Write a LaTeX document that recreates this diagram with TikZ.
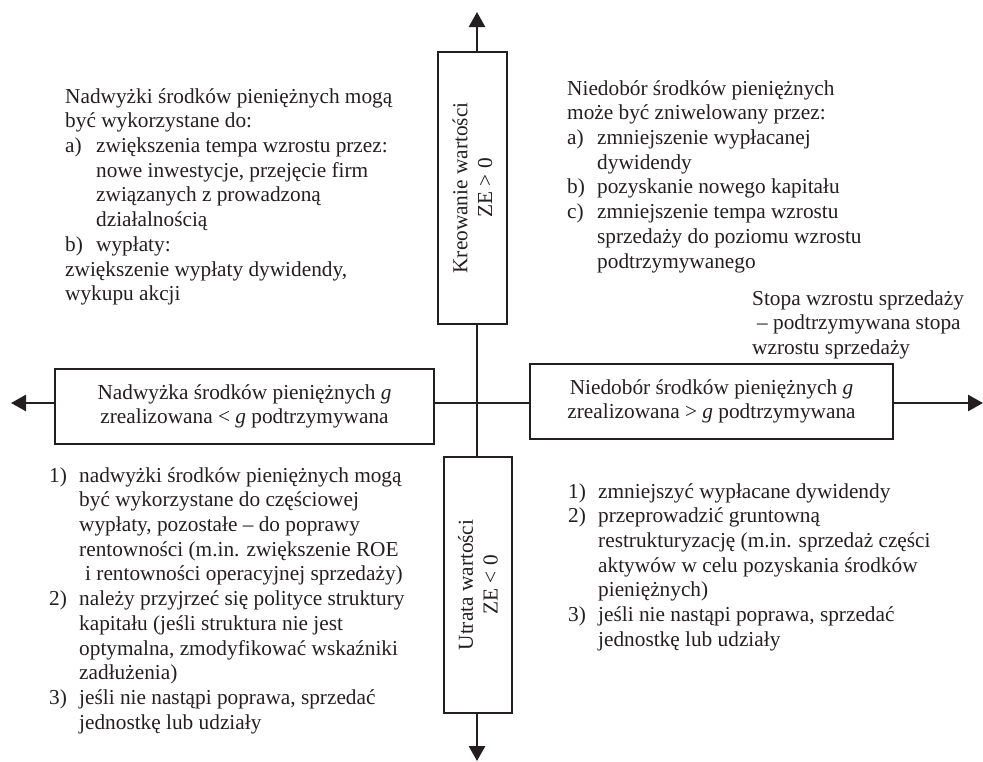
\documentclass[tikz,border=0pt]{standalone}
\usepackage{fontspec}
\setmainfont{Liberation Serif}
\usetikzlibrary{arrows.meta}
\definecolor{ink}{RGB}{35,31,32}
\newcommand{\wholeline}[1]{\multicolumn{2}{@{}l@{}}{#1}}
\begin{document}
\begin{tikzpicture}[x=1pt,y=-1pt,
  txt/.style={inner sep=0pt, anchor=north west, text=ink, font=\fontsize{21.3}{24.7}\selectfont},
  boxn/.style={draw=ink, line width=1.8pt, inner sep=0pt, fill=white},
  lbl/.style={text=ink, align=center, font=\fontsize{21.3}{24.7}\selectfont, inner sep=0pt},
  axis/.style={draw=ink, line width=2.6pt, -{Triangle[width=16pt,length=15pt]}},
  link/.style={draw=ink, line width=2.6pt}]
\useasboundingbox (0,0) rectangle (983,761);

% boxes
\node[boxn, minimum width=69pt, minimum height=272pt] (top) at (472.5,188) {};
\node[lbl, rotate=90] (toplbl) at (top.center) {Kreowanie wartości\\ZE > 0};
\node[boxn, minimum width=68pt, minimum height=256pt] (bot) at (478,585) {};
\node[lbl, rotate=90] (botlbl) at (bot.center) {Utrata wartości\\ZE < 0};
\node[boxn, minimum width=379pt, minimum height=75pt] (left) at (244.5,406.5) {};
\node[lbl] (leftlbl) at (left.center) {Nadwyżka środków pieniężnych \textit{g}\\zrealizowana < \textit{g} podtrzymywana};
\node[boxn, minimum width=363pt, minimum height=75pt] (right) at (711.5,401.5) {};
\node[lbl] (rightlbl) at (right.center) {Niedobór środków pieniężnych \textit{g}\\zrealizowana > \textit{g} podtrzymywana};

% axes
\coordinate (c) at (477,403);
\coordinate (tN) at (477,12);
\coordinate (tS) at (477,761);
\coordinate (tW) at (11,403);
\coordinate (tE) at (983,403);
\draw[axis] (top.north -| c) -- (tN);
\draw[link] (top.south -| c) -- (bot.north -| c);
\draw[axis] (bot.south -| c) -- (tS);
\draw[axis] (left.west |- c) -- (tW);
\draw[link] (left.east |- c) -- (right.west |- c);
\draw[axis] (right.east |- c) -- (tE);

% text blocks
\node[txt] (tl) at (65,85.7) {\begin{tabular}{@{}p{31pt}@{}l@{}}
\wholeline{Nadwyżki środków pieniężnych mogą}\\
\wholeline{być wykorzystane do:}\\
a) & zwiększenia tempa wzrostu przez:\\
 & nowe inwestycje, przejęcie firm\\
 & związanych z prowadzoną\\
 & działalnością\\
b) & wypłaty:\\
\wholeline{zwiększenie wypłaty dywidendy,}\\
\wholeline{wykupu akcji}
\end{tabular}};

\node[txt] (tr) at (567,77.7) {\begin{tabular}{@{}p{30pt}@{}l@{}}
\wholeline{Niedobór środków pieniężnych}\\
\wholeline{może być zniwelowany przez:}\\
a) & zmniejszenie wypłacanej\\
 & dywidendy\\
b) & pozyskanie nowego kapitału\\
c) & zmniejszenie tempa wzrostu\\
 & sprzedaży do poziomu wzrostu\\
 & podtrzymywanego
\end{tabular}};

\node[txt] (rate) at (752,287.7) {\begin{tabular}{@{}l@{}}
Stopa wzrostu sprzedaży\\
\hspace{5pt}– podtrzymywana stopa\\
wzrostu sprzedaży
\end{tabular}};

\node[txt] (bl) at (49,464.7) {\begin{tabular}{@{}p{30pt}@{}l@{}}
1) & nadwyżki środków pieniężnych mogą\\
 & być wykorzystane do częściowej\\
 & wypłaty, pozostałe – do poprawy\\
 & rentowności (m.in. zwiększenie ROE\\
 & \hspace{6pt}i rentowności operacyjnej sprzedaży)\\
2) & należy przyjrzeć się polityce struktury\\
 & kapitału (jeśli struktura nie jest\\
 & optymalna, zmodyfikować wskaźniki\\
 & zadłużenia)\\
3) & jeśli nie nastąpi poprawa, sprzedać\\
 & jednostkę lub udziały
\end{tabular}};

\node[txt] (br) at (568,480.7) {\begin{tabular}{@{}p{30pt}@{}l@{}}
1) & zmniejszyć wypłacane dywidendy\\
2) & przeprowadzić gruntowną\\
 & restrukturyzację (m.in. sprzedaż części\\
 & aktywów w celu pozyskania środków\\
 & pieniężnych)\\
3) & jeśli nie nastąpi poprawa, sprzedać\\
 & jednostkę lub udziały
\end{tabular}};
\end{tikzpicture}
\end{document}
